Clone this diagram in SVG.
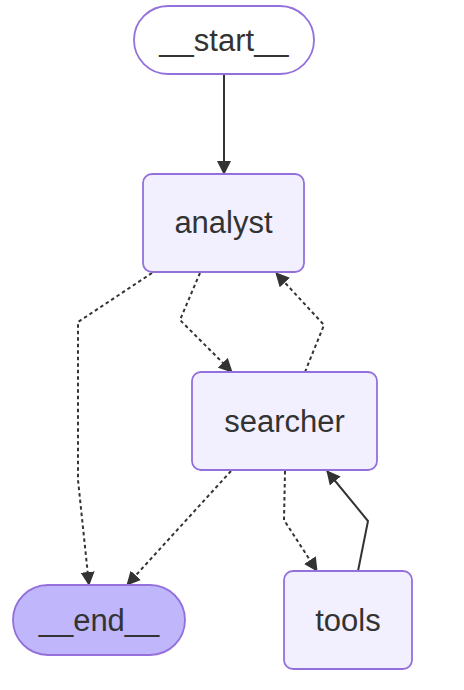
<svg xmlns="http://www.w3.org/2000/svg" width="464" height="690" viewBox="0 0 464 690">
<style>
.node rect{fill:#f2f0ff;stroke:#9370DB;stroke-width:1.8}
#start rect{fill:#ffffff}
#end rect{fill:#bfb6fc}
.node text{font-family:"Liberation Sans",Arial,sans-serif;font-size:31px;fill:#333;text-anchor:middle}
.edge{fill:none;stroke:#333;stroke-width:2;marker-end:url(#arrow)}
.dot{stroke-dasharray:3.5 3}
</style>
<defs>
<marker id="arrow" viewBox="0 0 14 14" refX="13" refY="7" markerWidth="14" markerHeight="14" markerUnits="userSpaceOnUse" orient="auto">
<path d="M0,0 L14,7 L0,14 Z" fill="#333"/>
</marker>
</defs>
<g id="edges">
<path class="edge" d="M224,74 L224,174"/>
<path class="edge dot" d="M152,273 L78,322 L78,480 L89,585"/>
<path class="edge dot" d="M200,273 L180,320 L232,372"/>
<path class="edge dot" d="M305,372 L324,325 L276,273"/>
<path class="edge dot" d="M231,471 L127,585"/>
<path class="edge dot" d="M285,471 L284,520 L317,571"/>
<path class="edge" d="M358,571 L368,521 L327,471"/>
</g>
<g id="start" class="node"><rect x="134" y="6" width="180" height="68" rx="34"/><text x="224" y="51">__start__</text></g>
<g id="analyst" class="node"><rect x="143" y="174" width="161" height="98" rx="9"/><text x="223.5" y="233">analyst</text></g>
<g id="searcher" class="node"><rect x="192" y="372" width="185" height="98" rx="9"/><text x="284.5" y="431.5">searcher</text></g>
<g id="end" class="node"><rect x="13" y="585" width="172" height="70" rx="35"/><text x="99" y="630.5">__end__</text></g>
<g id="tools" class="node"><rect x="284" y="571" width="128" height="98" rx="9"/><text x="348" y="630.5">tools</text></g>
</svg>
